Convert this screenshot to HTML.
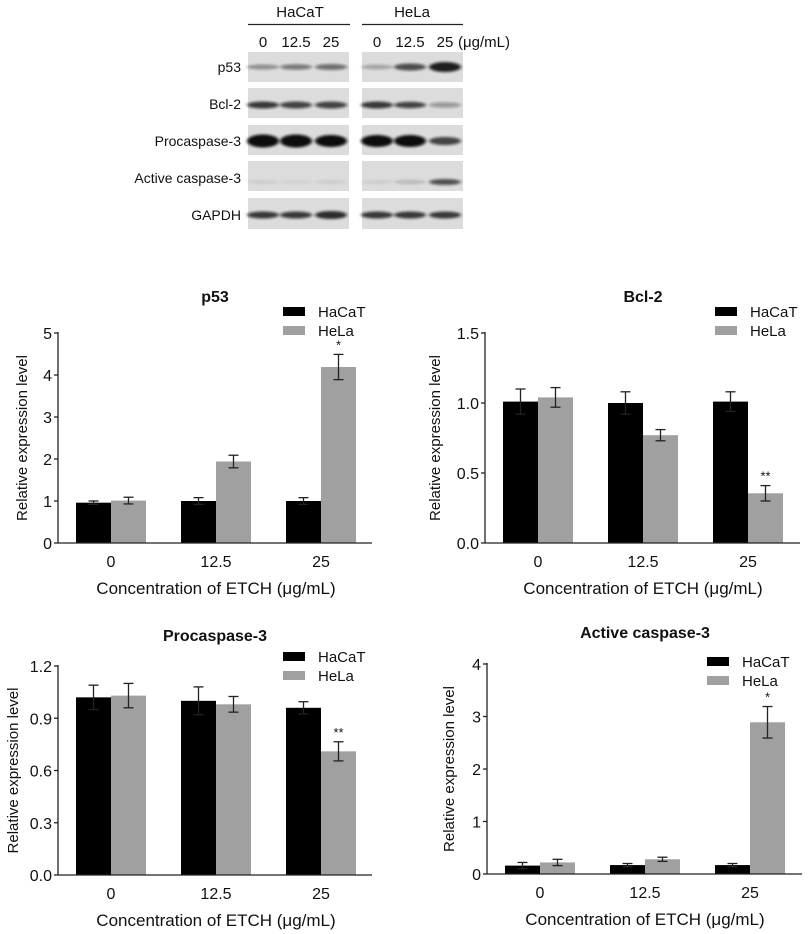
<!DOCTYPE html>
<html><head><meta charset="utf-8"><style>
html,body{margin:0;padding:0;background:#fff;}
svg{display:block;font-family:"Liberation Sans",Arial,sans-serif;}
</style></head><body>
<svg id="s" width="810" height="934" viewBox="0 0 810 934" xmlns="http://www.w3.org/2000/svg">
<defs>
<filter id="bl" x="-20%" y="-100%" width="140%" height="300%"><feGaussianBlur stdDeviation="1.6 1.2"/></filter>
</defs>
<g font-size="14" fill="#111">
<text x="300" y="17" text-anchor="middle" font-size="15">HaCaT</text>
<text x="412" y="17" text-anchor="middle" font-size="15">HeLa</text>
<line x1="248" y1="24.5" x2="350" y2="24.5" stroke="#222" stroke-width="1.2"/>
<line x1="362" y1="24.5" x2="463" y2="24.5" stroke="#222" stroke-width="1.2"/>
<text x="263" y="47" text-anchor="middle" font-size="15">0</text>
<text x="296" y="47" text-anchor="middle" font-size="15">12.5</text>
<text x="331" y="47" text-anchor="middle" font-size="15">25</text>
<text x="377" y="47" text-anchor="middle" font-size="15">0</text>
<text x="410" y="47" text-anchor="middle" font-size="15">12.5</text>
<text x="445" y="47" text-anchor="middle" font-size="15">25</text>
<text x="458" y="47" font-size="15">(μg/mL)</text>
<g text-anchor="end">
<text x="241" y="72">p53</text>
<text x="241" y="109">Bcl-2</text>
<text x="241" y="146">Procaspase-3</text>
<text x="241" y="183">Active caspase-3</text>
<text x="241" y="220">GAPDH</text>
</g>
</g>
<g id="blot"></g>
<g id="charts"></g>
</svg>
<script>
var NS="http://www.w3.org/2000/svg";
function el(p,t,a,txt){var e=document.createElementNS(NS,t);for(var k in a)e.setAttribute(k,a[k]);if(txt!=null)e.textContent=txt;p.appendChild(e);return e;}
var blot=document.getElementById('blot');
var rows=[[52,82,67],[88,118,105],[125,155,141],[161,191,182],[198,229,215]];
var panels=[248,362];
rows.forEach(function(r){panels.forEach(function(px){el(blot,'rect',{x:px,y:r[0],width:101,height:r[1]-r[0],fill:'#dcdcdc'});});});
var bands=[
[0,263,3,.4],[0,296,3.5,.5],[0,331,4,.55],[0,377,3,.25],[0,410,5,.7],[0,445,8,.92],
[1,263,5,.8],[1,296,5,.75],[1,331,5,.75],[1,377,5,.8],[1,410,4.5,.75],[1,445,3.5,.35],
[2,263,11,1],[2,296,11,1],[2,331,10,1],[2,377,10,1],[2,410,10,1],[2,445,6,.75],
[3,263,2,.07],[3,296,2,.05],[3,331,2,.07],[3,377,2,.07],[3,410,2.5,.15],[3,445,4,.7],
[4,263,5,.8],[4,296,5,.8],[4,331,6,.85],[4,377,5,.8],[4,410,5,.8],[4,445,5,.8]];
bands.forEach(function(b){el(blot,'ellipse',{cx:b[1],cy:rows[b[0]][2],rx:16,ry:b[2]/2+1,fill:'#111','fill-opacity':b[3],filter:'url(#bl)'});});

var C=document.getElementById('charts');
function chart(o){
 var ax=o.ax,y0=o.y0,ytop=o.ytop,max=o.max,sc=(y0-ytop)/max;
 var g=el(C,'g',{});
 o.data.forEach(function(d,i){
  var gx=o.bx+105*i;
  [[d[0],d[1],'#000',gx],[d[2],d[3],'#a0a0a0',gx+35]].forEach(function(b){
   var top=y0-b[0]*sc;
   el(g,'rect',{x:b[3],y:top,width:35,height:y0-top,fill:b[2]});
   var cx=b[3]+17.5,e1=y0-(b[0]+b[1])*sc,e2=y0-(b[0]-b[1])*sc;
   el(g,'line',{x1:cx,y1:e1,x2:cx,y2:e2,stroke:'#222','stroke-width':1.3});
   el(g,'line',{x1:cx-5,y1:e1,x2:cx+5,y2:e1,stroke:'#222','stroke-width':1.3});
   el(g,'line',{x1:cx-5,y1:e2,x2:cx+5,y2:e2,stroke:'#222','stroke-width':1.3});
  });
  el(g,'text',{x:gx+35,y:y0+24,'text-anchor':'middle','font-size':16,fill:'#111'},o.xl[i]);
 });
 if(o.star){var cx=o.bx+210+35+17.5;var d=o.data[2];el(g,'text',{x:cx,y:y0-(d[2]+d[3])*sc-5,'text-anchor':'middle','font-size':13,fill:'#111'},o.star);}
 el(g,'line',{x1:ax,y1:ytop-1,x2:ax,y2:y0,stroke:'#222','stroke-width':1.3});
 el(g,'line',{x1:ax,y1:y0,x2:o.xend,y2:y0,stroke:'#222','stroke-width':1.3});
 o.ticks.forEach(function(t){var y=y0-t*sc;
  el(g,'line',{x1:ax-4,y1:y,x2:ax,y2:y,stroke:'#222','stroke-width':1.3});
  el(g,'text',{x:ax-6,y:y+6,'text-anchor':'end','font-size':16,fill:'#111'},o.tf(t));});
 var mid=(ytop+y0)/2;
 el(g,'text',{x:0,y:0,transform:'translate('+(o.ylx)+','+mid+') rotate(-90)','text-anchor':'middle','font-size':15,fill:'#111'},'Relative expression level');
 el(g,'text',{x:o.bx+140,y:y0+51,'text-anchor':'middle','font-size':17,fill:'#111'},'Concentration of ETCH (μg/mL)');
 el(g,'text',{x:o.tx,y:o.ty,'text-anchor':'middle','font-size':16,'font-weight':'bold',fill:'#111'},o.title);
 el(g,'rect',{x:o.lx,y:o.ly,width:22,height:9,fill:'#000'});
 el(g,'rect',{x:o.lx,y:o.ly+19,width:22,height:9,fill:'#a0a0a0'});
 el(g,'text',{x:o.lx+35,y:o.ly+10,'font-size':15,fill:'#111'},'HaCaT');
 el(g,'text',{x:o.lx+35,y:o.ly+29,'font-size':15,fill:'#111'},'HeLa');
}
var xl=['0','12.5','25'];
chart({ax:58,y0:543,ytop:333,max:5,bx:76,xend:372,xl:xl,ticks:[0,1,2,3,4,5],tf:function(t){return t;},ylx:27,
 data:[[0.96,0.04,1.01,0.08],[1.0,0.08,1.94,0.15],[1.0,0.08,4.19,0.3]],star:'*',title:'p53',tx:215,ty:302,lx:283,ly:307});
chart({ax:485,y0:543,ytop:333,max:1.5,bx:503,xend:800,xl:xl,ticks:[0,0.5,1,1.5],tf:function(t){return t.toFixed(1);},ylx:440,
 data:[[1.01,0.09,1.04,0.07],[1.0,0.08,0.77,0.04],[1.01,0.07,0.355,0.055]],star:'**',title:'Bcl-2',tx:643,ty:302,lx:715,ly:307});
chart({ax:58,y0:875,ytop:666,max:1.2,bx:76,xend:372,xl:xl,ticks:[0,0.3,0.6,0.9,1.2],tf:function(t){return t.toFixed(1);},ylx:18,
 data:[[1.02,0.07,1.03,0.07],[1.0,0.08,0.98,0.045],[0.96,0.035,0.71,0.055]],star:'**',title:'Procaspase-3',tx:215,ty:641,lx:283,ly:652});
chart({ax:487,y0:874,ytop:664,max:4,bx:505,xend:802,xl:xl,ticks:[0,1,2,3,4],tf:function(t){return t;},ylx:454,
 data:[[0.16,0.06,0.22,0.06],[0.17,0.03,0.28,0.04],[0.17,0.03,2.89,0.3]],star:'*',title:'Active caspase-3',tx:645,ty:638,lx:707,ly:657});
</script>
</body></html>
